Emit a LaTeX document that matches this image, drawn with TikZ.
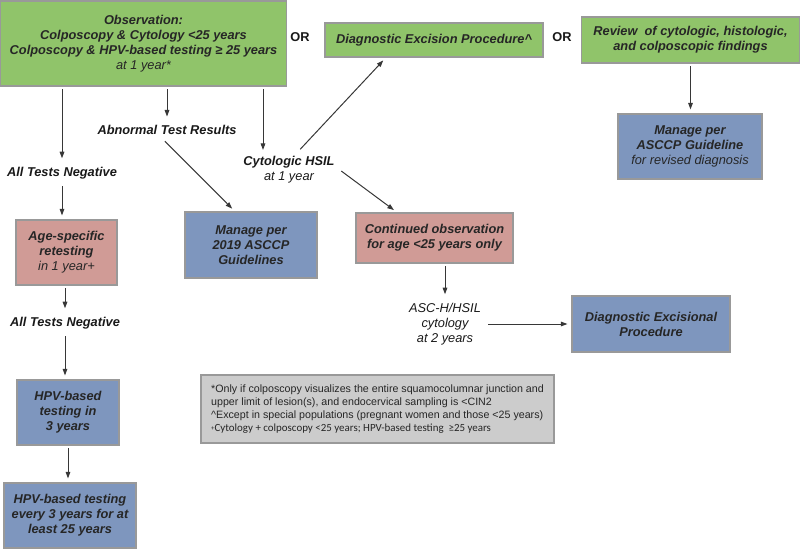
\documentclass[tikz,border=0pt]{standalone}
\usepackage{fontspec}
\setmainfont{Liberation Sans}
\newfontfamily\notefont{Carlito}
\definecolor{obsGreen}{RGB}{144,196,106}
\definecolor{mgBlue}{RGB}{126,150,190}
\definecolor{ageRose}{RGB}{208,155,150}
\definecolor{noteGrey}{RGB}{204,204,204}
\definecolor{lineGrey}{RGB}{55,55,55}
\usetikzlibrary{arrows.meta,calc}

\begin{document}
\begin{tikzpicture}[x=0.75pt, y=-0.75pt,
    box/.style={rectangle, draw=black!40, line width=0.8pt, align=center,
                font=\fontsize{9.6}{11.3}\selectfont\bfseries\itshape, text=black!85},
    grn/.style={box, fill=obsGreen},
    blu/.style={box, fill=mgBlue},
    ros/.style={box, fill=ageRose},
    lbl/.style={align=center, font=\fontsize{9.6}{11.3}\selectfont\bfseries\itshape, text=black!90},
    orlbl/.style={font=\fontsize{9.6}{11}\selectfont\bfseries, text=black!90},
    conn/.style={-{Triangle[length=5pt,width=3.5pt]}, lineGrey, line width=0.75pt,
                 shorten <=2pt, shorten >=3pt}
  ]
  \useasboundingbox (0,0) rectangle (800,549);

  \node[grn, minimum width=214pt, minimum height=63.75pt] (obs) at (143.5,43.5)
    {Observation:\\Colposcopy \& Cytology <25 years\\Colposcopy \& HPV-based testing ≥ 25 years\\{\mdseries at 1 year*}};
  \node[orlbl] (or1) at (300,37) {OR};
  \node[grn, minimum width=163.5pt, minimum height=25.5pt] (dep) at (434,40)
    {Diagnostic Excision Procedure\textasciicircum};
  \node[orlbl] (or2) at (562,37) {OR};
  \node[grn, minimum width=163pt, minimum height=34.5pt] (rev) at (690.5,40)
    {Review~ of cytologic, histologic,\\and colposcopic findings};
  \node[blu, minimum width=108pt, minimum height=48.75pt] (mgr) at (690,146.5)
    {Manage per\\ASCCP Guideline\\{\mdseries for revised diagnosis}};

  \node[lbl] (abn)  at (167,130)   {Abnormal Test Results};
  \node[lbl] (neg1) at (62,173)    {All Tests Negative};
  \node[lbl] (hsil) at (289,169.5) {Cytologic HSIL\\{\mdseries at 1 year}};
  \coordinate (hsilin) at (263,154);

  \node[ros, minimum width=75.75pt, minimum height=48.75pt] (age) at (66.5,252.5)
    {Age-specific\\retesting\\{\mdseries in 1 year+}};
  \node[blu, minimum width=99pt, minimum height=49.5pt] (m2019) at (251,245)
    {Manage per\\2019 ASCCP\\Guidelines};
  \node[ros, minimum width=117.75pt, minimum height=37.5pt] (cont) at (434.5,238)
    {Continued observation\\for age <25 years only};
  \node[lbl, font=\fontsize{9.6}{11.3}\selectfont\itshape] (asc) at (445,324)
    {ASC-H/HSIL\\cytology\\at 2 years};
  \node[blu, minimum width=118.5pt, minimum height=42pt] (dxp) at (651,324)
    {Diagnostic Excisional\\Procedure};

  \node[lbl] (neg2) at (65,323) {All Tests Negative};
  \node[blu, minimum width=76.5pt, minimum height=48.75pt] (hpv3) at (68,412.5)
    {HPV-based\\testing in\\3 years};
  \node[blu, minimum width=99pt, minimum height=48.75pt] (hpv25) at (70,515.5)
    {HPV-based testing\\every 3 years for at\\least 25 years};

  \node[rectangle, draw=black!40, fill=noteGrey, line width=0.8pt, align=left,
        minimum width=264.75pt, minimum height=51pt,
        font=\fontsize{8}{9.75}\selectfont, text=black!85] (note) at (377.5,409)
    {*Only if colposcopy visualizes the entire squamocolumnar junction and\\
     upper limit of lesion(s), and endocervical sampling is <CIN2\\
     \textasciicircum Except in special populations (pregnant women and those <25 years)\\
     {\notefont\fontsize{8.2}{9.75}\selectfont\raisebox{1pt}{\tiny+}Cytology + colposcopy <25 years; HPV-based testing~ ≥25 years}};

  \draw[conn] (neg1 |- obs.south) -- (neg1);
  \draw[conn] (neg1.south) -- (neg1.south |- age.north);
  \draw[conn] (neg2 |- age.south) -- (neg2);
  \draw[conn] (neg2.south) -- (neg2.south |- hpv3.north);
  \draw[conn] (hpv3.south) -- (hpv3.south |- hpv25.north);
  \draw[conn] (abn |- obs.south) -- (abn);
  \draw[conn] ([xshift=-3pt]abn.south) -- ([xshift=-12pt]m2019.north);
  \draw[conn] (obs.south -| hsilin) -- (hsilin);
  \draw[conn] ([xshift=7pt]hsil.north) -- ([xshift=-36pt]dep.south);
  \draw[conn] (hsil.east) -- ([xshift=-28pt]cont.north);
  \draw[conn] (rev.south) -- (rev.south |- mgr.north);
  \draw[conn] (asc |- cont.south) -- (asc);
  \draw[conn] (asc) -- (dxp);
\end{tikzpicture}
\end{document}
